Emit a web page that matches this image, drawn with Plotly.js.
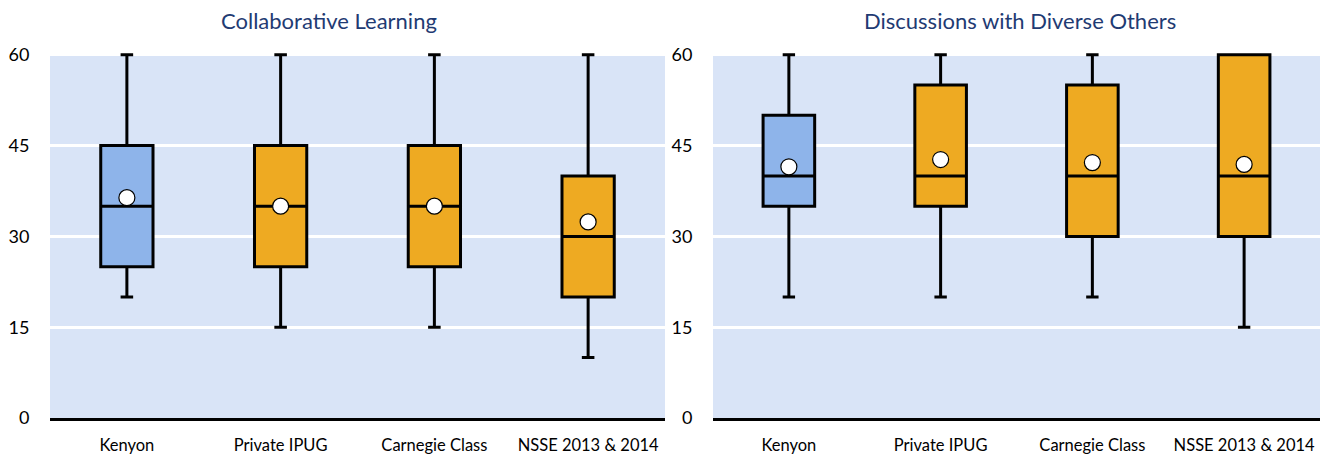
<!DOCTYPE html>
<html><head><meta charset="utf-8">
<script src="https://cdn.plot.ly/plotly-3.0.1.min.js"></script>
<style>body{margin:0;background:#fff}#c{width:1322px;height:454px}</style>
</head><body><div id="c"></div>
<script>
const categories = ["Kenyon", "Private IPUG", "Carnegie Class", "NSSE 2013 & 2014"];
const titles = ["Collaborative Learning", "Discussions with Diverse Others"];
const yTicks = [0, 15, 30, 45, 60];

// Collaborative Learning
const cl_low = [20, 15, 15, 10];
const cl_q1 = [25, 25, 25, 20];
const cl_med = [35, 35, 35, 30];
const cl_q3 = [45, 45, 45, 40];
const cl_high = [60, 60, 60, 60];
const cl_mean = [36.4, 35.0, 35.0, 32.4];

// Discussions with Diverse Others
const dd_low = [20, 20, 20, 15];
const dd_q1 = [35, 35, 30, 30];
const dd_med = [40, 40, 40, 40];
const dd_q3 = [50, 55, 55, 60];
const dd_high = [60, 60, 60, 60];
const dd_mean = [41.5, 42.7, 42.2, 41.9];

const blue = "#8EB4EA", orange = "#EEAA22";
const font = "Lato, 'Open Sans', sans-serif";

function boxTraces(low, q1, med, q3, high, mean, xa, ya) {
  const sel = (arr, idx) => idx.map(i => arr[i]);
  const groups = [[[0], blue], [[1, 2, 3], orange]];
  const out = [];
  groups.forEach(([idx, col]) => {
    out.push({
      type: "box", xaxis: xa, yaxis: ya,
      x: sel(categories, idx),
      lowerfence: sel(low, idx), q1: sel(q1, idx), median: sel(med, idx),
      q3: sel(q3, idx), upperfence: sel(high, idx),
      fillcolor: col, line: {color: "#000", width: 3},
      width: 0.34, whiskerwidth: 0.24, boxpoints: false,
      hoverinfo: "skip", showlegend: false
    });
  });
  out.push({
    type: "scatter", mode: "markers", xaxis: xa, yaxis: ya,
    x: categories, y: mean, cliponaxis: false,
    marker: {color: "#fff", size: 16, line: {color: "#000", width: 1.2}},
    hoverinfo: "skip", showlegend: false
  });
  return out;
}

const data = [
  ...boxTraces(cl_low, cl_q1, cl_med, cl_q3, cl_high, cl_mean, "x", "y"),
  ...boxTraces(dd_low, dd_q1, dd_med, dd_q3, dd_high, dd_mean, "x2", "y2")
];

const xBase = {
  type: "category", categoryarray: categories, range: [-0.5, 3.5],
  showline: true, linecolor: "#000", linewidth: 3, showgrid: false, zeroline: false,
  ticks: "outside", ticklen: 10, tickcolor: "rgba(0,0,0,0)",
  tickfont: {family: font, size: 16.5, color: "#000"}, fixedrange: true
};
const yBase = {
  range: [0, 60.3], tickvals: yTicks, showgrid: true, gridcolor: "#fff", gridwidth: 3,
  zeroline: false, showline: false,
  ticks: "outside", ticklen: 16, tickcolor: "rgba(0,0,0,0)",
  tickfont: {family: font, size: 18, color: "#000"}, fixedrange: true
};

const layout = {
  width: 1322, height: 454,
  margin: {l: 0, r: 0, t: 53, b: 36},
  paper_bgcolor: "#fff", plot_bgcolor: "#D9E4F7",
  boxmode: "overlay",
  xaxis: Object.assign({}, xBase, {domain: [50/1322, 665/1322], anchor: "y"}),
  yaxis: Object.assign({}, yBase, {anchor: "x"}),
  xaxis2: Object.assign({}, xBase, {domain: [713/1322, 1320/1322], anchor: "y2"}),
  yaxis2: Object.assign({}, yBase, {anchor: "x2"}),
  shapes: [
    {type: "rect", xref: "x domain", yref: "y domain", x0: 0, x1: 1, y0: 0, y1: 1, fillcolor: "#D9E4F7", line: {width: 0}, layer: "below"},
    {type: "rect", xref: "x2 domain", yref: "y2 domain", x0: 0, x1: 1, y0: 0, y1: 1, fillcolor: "#D9E4F7", line: {width: 0}, layer: "below"}
  ],
  annotations: [
    {text: titles[0], xref: "x domain", yref: "paper", x: 0.454, y: 1, yanchor: "middle", yshift: 33, showarrow: false,
     font: {family: font, size: 22, color: "#1F3B73"}},
    {text: titles[1], xref: "x2 domain", yref: "paper", x: 0.505, y: 1, yanchor: "middle", yshift: 33, showarrow: false,
     font: {family: font, size: 22, color: "#1F3B73"}}
  ]
};

Plotly.newPlot("c", data, layout, {staticPlot: true, displayModeBar: false});
</script></body></html>
